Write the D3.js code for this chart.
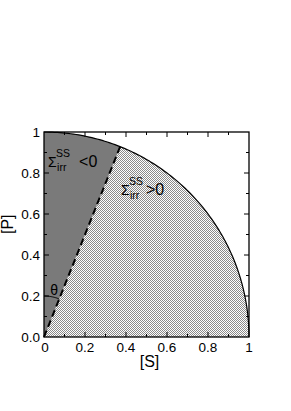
<!DOCTYPE html>
<html lang="en">
<head>
<meta charset="utf-8">
<script src="https://d3js.org/d3.v7.min.js"></script>
<style>
body { margin: 0; background: #fff; }
text { font-family: "Liberation Sans", Arial, sans-serif; }
</style>
</head>
<body>
<script>
var w = 291, h = 411;
var margin = {left: 44, top: 132, right: 42, bottom: 74};

// data
var xTicks = [0, 0.2, 0.4, 0.6, 0.8, 1];
var xTickLabels = ['0', '0.2', '0.4', '0.6', '0.8', '1'];
var yTicks = [0, 0.2, 0.4, 0.6, 0.8, 1];
var yTickLabels = ['0.0', '0.2', '0.4', '0.6', '0.8', '1'];
var minorTicks = [0.1, 0.3, 0.5, 0.7, 0.9];
var lineSlope = [2.5];           // [P]/[S] along the dashed line
var thetaRadius = [0.2];
var regionLabels = ['<0', '>0'];

var x = d3.scaleLinear().domain([0, 1]).range([margin.left, w - margin.right]);
var y = d3.scaleLinear().domain([0, 1]).range([h - margin.bottom, margin.top]);

var svg = d3.select('body').append('svg')
    .attr('width', w).attr('height', h);

// checkerboard pattern for the hatched region
var defs = svg.append('defs');
var pat = defs.append('pattern').attr('id', 'chk')
    .attr('patternUnits', 'userSpaceOnUse')
    .attr('width', 2).attr('height', 2);
pat.append('rect').attr('width', 2).attr('height', 2).attr('fill', '#fff');
pat.append('rect').attr('width', 1).attr('height', 1).attr('fill', '#8a8a8a');
pat.append('rect').attr('x', 1).attr('y', 1).attr('width', 1).attr('height', 1).attr('fill', '#8a8a8a');

var k = lineSlope[0];
var sx = 1 / Math.sqrt(1 + k * k), sy = k * sx;   // where dashed line meets the circle
var phi = Math.atan2(sy, sx);

// points on the unit quarter circle
function arcPts(a0, a1, n) {
    var pts = [];
    for (var i = 0; i <= n; i++) {
        var a = a0 + (a1 - a0) * i / n;
        pts.push([Math.cos(a), Math.sin(a)]);
    }
    return pts;
}
var line = d3.line().x(function(d){ return x(d[0]); }).y(function(d){ return y(d[1]); });

// light region: between x axis and dashed line
var light = [[0, 0]].concat(arcPts(0, phi, 80));
svg.append('path').attr('d', line(light) + 'Z').attr('fill', 'url(#chk)');

// dark region: between dashed line and y axis
var dark = [[0, 0]].concat(arcPts(phi, Math.PI / 2, 60));
svg.append('path').attr('d', line(dark) + 'Z').attr('fill', '#7a7a7a');

// circle outline
svg.append('path').attr('d', line(arcPts(0, Math.PI / 2, 120)))
    .attr('fill', 'none').attr('stroke', '#000').attr('stroke-width', 1.2);

// dashed line
svg.append('path').attr('d', line([[0, 0], [sx, sy]]))
    .attr('stroke', '#000').attr('stroke-width', 2)
    .attr('stroke-dasharray', '7,4').attr('fill', 'none');

// theta arc
svg.append('path').attr('d', line(arcPts(phi, Math.PI / 2, 20).map(function(p){
        return [p[0] * thetaRadius[0], p[1] * thetaRadius[0]]; })))
    .attr('fill', 'none').attr('stroke', '#000').attr('stroke-width', 1);
svg.append('text').attr('x', x(0.05)).attr('y', y(0.205))
    .attr('text-anchor', 'middle').attr('font-size', 14).text('θ');

// frame
svg.append('rect').attr('x', x(0)).attr('y', y(1))
    .attr('width', x(1) - x(0)).attr('height', y(0) - y(1))
    .attr('fill', 'none').attr('stroke', '#000').attr('stroke-width', 1.3);

// inward ticks on all four sides
var g = svg.append('g').attr('stroke', '#000').attr('stroke-width', 1);
function ticks(vals, len) {
    vals.forEach(function(v){
        g.append('line').attr('x1', x(v)).attr('x2', x(v)).attr('y1', y(0)).attr('y2', y(0) - len);
        g.append('line').attr('x1', x(v)).attr('x2', x(v)).attr('y1', y(1)).attr('y2', y(1) + len);
        g.append('line').attr('y1', y(v)).attr('y2', y(v)).attr('x1', x(0)).attr('x2', x(0) + len);
        g.append('line').attr('y1', y(v)).attr('y2', y(v)).attr('x1', x(1)).attr('x2', x(1) - len);
    });
}
ticks(xTicks.slice(1, -1), 5);
ticks(minorTicks, 3);

svg.selectAll('.xl').data(xTicks).enter().append('text')
    .attr('x', function(d, i){ return x(d) + (i === 0 ? 1 : 0); }).attr('y', y(0) + 15)
    .attr('text-anchor', 'middle').attr('font-size', 13.5)
    .text(function(d, i){ return xTickLabels[i]; });
svg.selectAll('.yl').data(yTicks).enter().append('text')
    .attr('x', x(0) - 4).attr('y', function(d){ return y(d) + 5; })
    .attr('text-anchor', 'end').attr('font-size', 13.5)
    .text(function(d, i){ return yTickLabels[i]; });

svg.append('text').attr('x', (x(0) + x(1)) / 2 + 3).attr('y', y(0) + 30)
    .attr('text-anchor', 'middle').attr('font-size', 16).text('[S]');
svg.append('text').attr('transform', 'translate(13,' + y(0.55) + ') rotate(-90)')
    .attr('text-anchor', 'middle').attr('font-size', 16).text('[P]');

// region labels: Sigma with stacked SS / irr, then the relation
function sigma(px, py, rel, gap) {
    var t = svg.append('g');
    t.append('text').attr('x', px).attr('y', py).attr('font-size', 14).text('Σ');
    t.append('text').attr('x', px + 8).attr('y', py - 10).attr('font-size', 10.5).text('SS');
    t.append('text').attr('x', px + 9).attr('y', py + 4).attr('font-size', 10.5).text('irr');
    t.append('text').attr('x', px + gap).attr('y', py).attr('font-size', 16).text(rel);
}
sigma(x(0.02), y(0.828), regionLabels[0], 31);
sigma(x(0.375), y(0.695), regionLabels[1], 25);
</script>
</body>
</html>
